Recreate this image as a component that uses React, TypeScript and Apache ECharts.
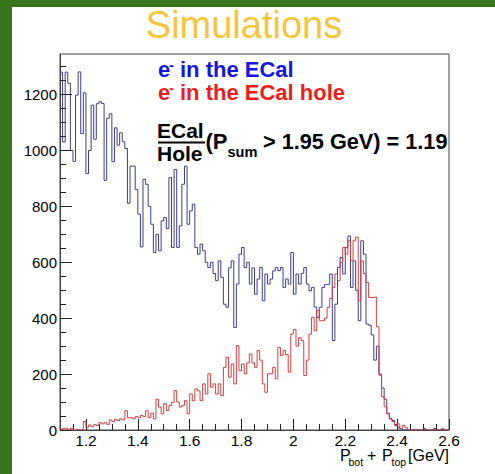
import React, { useEffect, useRef } from 'react';
import * as echarts from 'echarts';

const binStart = 1.1;
const binWidth = 0.01;

const ecalCounts = [
  1280, 1030, 1280, 1240, 1000, 960, 1198, 1281, 1060, 1206,
  917, 1000, 1162, 1040, 1167, 1174, 1168, 893, 1115, 1131,
  960, 1081, 1019, 1063, 1031, 1007, 811, 944, 944, 860,
  772, 655, 897, 879, 800, 736, 635, 700, 641, 748,
  760, 720, 903, 653, 932, 653, 730, 879, 944, 736,
  784, 808, 653, 629, 665, 641, 600, 581, 600, 560,
  534, 605, 546, 450, 439, 580, 605, 367, 522, 629,
  653, 581, 600, 522, 580, 486, 540, 581, 462, 558,
  522, 540, 569, 581, 570, 581, 510, 540, 522, 635,
  486, 558, 522, 560, 581, 522, 498, 510, 440, 403,
  439, 510, 520, 522, 558, 320, 450, 581, 617, 558,
  653, 694, 510, 605, 500, 391, 677, 629, 379, 375,
  340, 250, 300, 200, 150, 110, 60, 40, 34, 20,
  10, 5, 0, 0, 0, 0, 0, 0, 0, 0,
  5, 0, 0, 0, 5, 0, 0, 0, 0, 0,
];

const holeCounts = [
  2, 6, 6, 0, 6, 0, 2, 0, 2, 30,
  10, 18, 12, 20, 16, 26, 22, 26, 20, 36,
  30, 38, 34, 40, 36, 69, 44, 44, 40, 48,
  44, 52, 48, 69, 44, 60, 40, 110, 82, 58,
  94, 70, 88, 99, 141, 100, 82, 88, 105, 58,
  129, 105, 147, 140, 105, 165, 129, 201, 153, 165,
  129, 165, 123, 224, 260, 189, 236, 165, 302, 212,
  236, 201, 240, 272, 240, 224, 284, 250, 165, 135,
  201, 201, 224, 183, 296, 266, 284, 270, 207, 343,
  360, 300, 330, 320, 195, 250, 343, 403, 355, 427,
  391, 391, 400, 439, 470, 510, 558, 534, 600, 653,
  629, 677, 605, 677, 690, 462, 605, 560, 528, 474,
  474, 476, 369, 196, 119, 83, 58, 40, 30, 16,
  22, 5, 16, 8, 0, 0, 0, 0, 0, 0,
  0, 0, 0, 0, 0, 0, 0, 5, 0, 0,
];

const xTickValues = [1.2, 1.4, 1.6, 1.8, 2.0, 2.2, 2.4, 2.6];
const xTickLabels = ['1.2', '1.4', '1.6', '1.8', '2', '2.2', '2.4', '2.6'];
const yTickValues = [0, 200, 400, 600, 800, 1000, 1200];
const yTickLabels = ['0', '200', '400', '600', '800', '1000', '1200'];

const X_MIN = 1.1;
const X_MAX = 2.6;
const Y_MAX = 1345;

const FONT = '"Liberation Sans", Arial, Helvetica, sans-serif';
const GREEN = '#38761d';
const BLUE_LINE = '#3d3d8f';
const RED_LINE = '#d43f3f';

function stepData(counts: number[]) {
  const pts: number[][] = counts.map((c, i) => [binStart + i * binWidth, c]);
  pts.push([binStart + counts.length * binWidth, counts[counts.length - 1]]);
  return pts;
}

function range(from: number, to: number, step: number) {
  const out: number[] = [];
  for (let v = from; v <= to + 1e-9; v += step) out.push(+v.toFixed(4));
  return out;
}

// baseline-positioned text helper (SVG uses central baseline)
function txt(text: string, x: number, baseline: number, size: number, opts: any = {}) {
  return {
    type: 'text',
    x,
    y: baseline - 0.3465 * size,
    z: 10,
    style: {
      text,
      fill: opts.fill || '#000',
      font: `${opts.bold ? 'bold ' : ''}${size}px ${FONT}`,
      align: opts.align || 'left',
      verticalAlign: 'middle',
    },
  };
}

export default function App() {
  const ref = useRef<HTMLDivElement>(null);

  useEffect(() => {
    if (!ref.current) return;
    const chart = echarts.init(ref.current, undefined, { renderer: 'svg' });
    const minorX = range(1.15, 2.55, 0.05);
    const minorY = range(50, 1300, 50);

    chart.setOption({
      animation: false,
      backgroundColor: '#ffffff',
      grid: {
        left: 60,
        top: 54,
        width: 389,
        height: 376,
        show: true,
        borderColor: '#444',
        borderWidth: 1,
        backgroundColor: 'transparent',
      },
      xAxis: [
        {
          type: 'value',
          min: X_MIN,
          max: X_MAX,
          axisLine: { show: true, lineStyle: { color: '#444', width: 1 } },
          axisTick: {
            show: true,
            inside: true,
            length: 11,
            customValues: xTickValues,
            lineStyle: { color: '#222', width: 1 },
          },
          axisLabel: {
            show: true,
            customValues: xTickValues,
            margin: 2,
            color: '#000',
            fontSize: 15.5,
            fontFamily: FONT,
            formatter: (v: number) => {
              const idx = xTickValues.findIndex((t) => Math.abs(t - v) < 1e-6);
              return idx >= 0 ? xTickLabels[idx] : '';
            },
          },
          splitLine: { show: false },
        },
        {
          type: 'value',
          min: X_MIN,
          max: X_MAX,
          position: 'bottom',
          axisLine: { show: false },
          axisTick: {
            show: true,
            inside: true,
            length: 6,
            customValues: minorX,
            lineStyle: { color: '#222', width: 1 },
          },
          axisLabel: { show: false },
          splitLine: { show: false },
        },
      ],
      yAxis: [
        {
          type: 'value',
          min: 0,
          max: Y_MAX,
          axisLine: { show: true, lineStyle: { color: '#444', width: 1 } },
          axisTick: {
            show: true,
            inside: true,
            length: 12,
            customValues: yTickValues,
            lineStyle: { color: '#222', width: 1 },
          },
          axisLabel: {
            show: true,
            customValues: yTickValues,
            margin: 3,
            color: '#000',
            fontSize: 15,
            fontFamily: FONT,
            formatter: (v: number) => {
              const idx = yTickValues.findIndex((t) => Math.abs(t - v) < 1e-6);
              return idx >= 0 ? yTickLabels[idx] : '';
            },
          },
          splitLine: { show: false },
        },
        {
          type: 'value',
          min: 0,
          max: Y_MAX,
          position: 'left',
          axisLine: { show: false },
          axisTick: {
            show: true,
            inside: true,
            length: 6,
            customValues: minorY,
            lineStyle: { color: '#222', width: 1 },
          },
          axisLabel: { show: false },
          splitLine: { show: false },
        },
      ],
      series: [
        {
          name: 'e- in the ECal',
          type: 'line',
          step: 'end',
          xAxisIndex: 0,
          yAxisIndex: 0,
          symbol: 'none',
          lineStyle: { color: BLUE_LINE, width: 1 },
          data: stepData(ecalCounts),
          z: 3,
        },
        {
          name: 'e- in the ECal hole',
          type: 'line',
          step: 'end',
          xAxisIndex: 0,
          yAxisIndex: 0,
          symbol: 'none',
          lineStyle: { color: RED_LINE, width: 1 },
          data: stepData(holeCounts),
          z: 4,
        },
      ],
      graphic: [
        { type: 'rect', shape: { x: 0, y: 0, width: 12, height: 474 }, style: { fill: GREEN }, z: 20 },
        { type: 'rect', shape: { x: 0, y: 0, width: 495, height: 7 }, style: { fill: GREEN }, z: 20 },
        txt('Simulations', 244, 38, 38, { fill: '#f3c53a', align: 'center' }),
        // legend line 1
        txt('e', 158, 77.3, 22, { bold: true, fill: '#1515e6' }),
        txt('-', 169, 70, 15, { bold: true, fill: '#1515e6' }),
        txt('in the ECal', 180, 77.3, 22, { bold: true, fill: '#1515e6' }),
        // legend line 2
        txt('e', 158, 100, 22, { bold: true, fill: '#ee1c1c' }),
        txt('-', 169, 92.5, 15, { bold: true, fill: '#ee1c1c' }),
        txt('in the ECal hole', 180, 100, 22, { bold: true, fill: '#ee1c1c' }),
        // ratio formula
        txt('ECal', 157, 138, 21, { bold: true }),
        {
          type: 'line',
          z: 10,
          shape: { x1: 158, y1: 142.5, x2: 205, y2: 142.5 },
          style: { stroke: '#000', lineWidth: 2 },
        },
        txt('Hole', 157, 160.5, 21, { bold: true }),
        txt('(P', 205.5, 149.3, 22, { bold: true }),
        txt('sum', 227.5, 157, 14.6, { bold: true }),
        txt('> 1.95 GeV) = 1.19', 263, 149.3, 21.7, { bold: true }),
        // x axis title
        txt('P', 340, 461, 16),
        txt('bot', 348.5, 466, 10.5),
        txt('+', 367, 461, 16),
        txt('P', 382, 461, 16),
        txt('top', 391.5, 466, 10.5),
        txt('[GeV]', 449, 461, 16, { align: 'right' }),
      ],
    });

    return () => chart.dispose();
  }, []);

  return (
    <div
      ref={ref}
      style={{ position: 'absolute', left: 0, top: 0, width: 495, height: 474 }}
    />
  );
}
